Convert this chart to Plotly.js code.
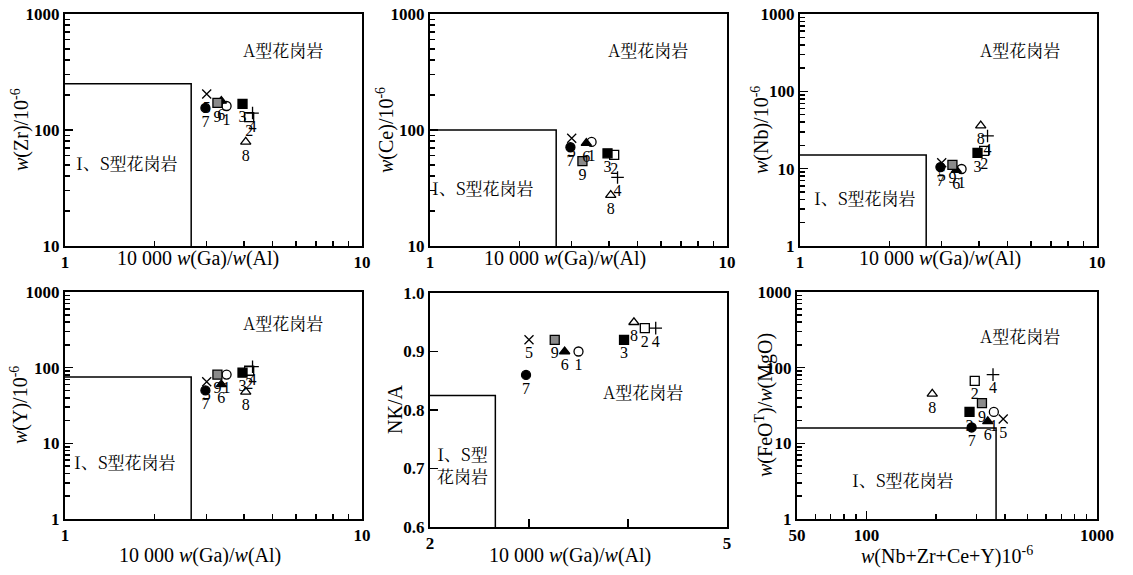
<!DOCTYPE html>
<html><head><meta charset="utf-8">
<script src="https://cdn.plot.ly/plotly-3.0.1.min.js"></script>
<style>html,body{margin:0;padding:0;background:#fff}#chart{width:1133px;height:575px}</style>
</head><body><div id="chart"></div>
<script>
// ---- data ----
const sampleIds = ['1','2','3','4','5','6','7','8','9'];
const gaAl   = [3.5, 4.17, 3.96, 4.28, 3.0, 3.36, 2.97, 4.06, 3.26];   // 10000 Ga/Al
const zr     = [161, 129, 168, 140, 204, 178, 155, 79, 171];
const ce     = [79, 61, 63, 39, 85, 77, 71, 27.5, 54];
const nb     = [9.9, 17, 16, 26.5, 11.9, 9.6, 10.5, 36, 11.2];
const yt     = [81, 91, 86, 103, 65, 60, 50, 48, 81];
const nka    = [0.90, 0.94, 0.92, 0.94, 0.92, 0.90, 0.86, 0.95, 0.92];
const hfse   = [357, 295, 280, 354, 392, 336, 286, 193, 317];           // Nb+Zr+Ce+Y
const feoMgo = [26, 67, 26, 81, 21, 19.5, 16.2, 45, 34];
// field boundaries (I & S type granite box)
const gaAlLimit = 2.66, zrLimit = 250, ceLimit = 100, nbLimit = 15, yLimit = 75;
const nkaLimit = 0.825, hfseLimit = 365, feoLimit = 16;
const labelA = 'A型花岗岩', labelIS = 'I、S型花岗岩', labelIS2 = 'I、S型<br>花岗岩';

// ---- styles ----
const symbols = ['circle-open','square-open','square','cross-thin','x-thin','triangle-up','circle','triangle-up-open','square'];
const fills   = ['black','black','black','black','black','black','black','black','#8a8a8a'];
const SERIF = 'Liberation Serif, Times New Roman, Noto Sans CJK SC, serif';
const CJK = 'Noto Serif CJK SC, Liberation Serif, Noto Sans CJK SC, serif';

const W = 1133, H = 575;
function px2x(p){return p/W;}
function px2y(p){return (H-p)/H;}

function minorLog(lo, hi){ // tick marks 2..9 per decade
  const v=[]; for(let e=Math.floor(lo); e<hi; e++){ for(let m=2;m<=9;m++){ const t=m*Math.pow(10,e); if(Math.log10(t)>lo+1e-9 && Math.log10(t)<hi-1e-9) v.push(t);} } return v;
}
function axis(opts){
  const a = {
    domain: opts.domain, range: opts.range, type: opts.type||'linear',
    showline:true, mirror:true, linewidth:2, linecolor:'black',
    ticks:'inside', ticklen:8, tickwidth:1.5, tickcolor:'black',
    showgrid:false, zeroline:false, fixedrange:true,
    tickfont:{family:SERIF, size:17, color:'black', weight:'bold'},
    anchor: opts.anchor
  };
  if(opts.tickvals){a.tickmode='array'; a.tickvals=opts.tickvals; a.ticktext=opts.ticktext;}
  if(opts.dtick){a.tickmode='linear'; a.tick0=opts.tick0; a.dtick=opts.dtick; a.tickformat=opts.tickformat;}
  if(opts.type==='log'){ a.minor={ticks:'inside', ticklen:5, tickwidth:1.5, tickcolor:'black', tickmode:'array', tickvals:minorLog(opts.range[0],opts.range[1]), showgrid:false}; }
  return a;
}

const xd1=[px2x(65),px2x(362)], xd2=[px2x(430),px2x(727)], xd3=[px2x(800),px2x(1097)], xd6=[px2x(797),px2x(1097)];
const ydTop=[px2y(246),px2y(14)], ydBot=[px2y(519),px2y(292)], ydMid=[px2y(527),px2y(293)];

const layout = {
  width:W, height:H, margin:{l:0,r:0,t:0,b:0}, paper_bgcolor:'white', plot_bgcolor:'white',
  showlegend:false, font:{family:SERIF, color:'black'},
  xaxis:  axis({domain:xd1, range:[0,1], type:'log', tickvals:[1,10], ticktext:['1','10'], anchor:'y'}),
  yaxis:  axis({domain:ydTop, range:[1,3], type:'log', tickvals:[10,100,1000], ticktext:['10','100','1000'], anchor:'x'}),
  xaxis2: axis({domain:xd2, range:[0,1], type:'log', tickvals:[1,10], ticktext:['1','10'], anchor:'y2'}),
  yaxis2: axis({domain:ydTop, range:[1,3], type:'log', tickvals:[10,100,1000], ticktext:['10','100','1000'], anchor:'x2'}),
  xaxis3: axis({domain:xd3, range:[0,1], type:'log', tickvals:[1,10], ticktext:['1','10'], anchor:'y3'}),
  yaxis3: axis({domain:ydTop, range:[0,3], type:'log', tickvals:[1,10,100,1000], ticktext:['1','10','100','1000'], anchor:'x3'}),
  xaxis4: axis({domain:xd1, range:[0,1], type:'log', tickvals:[1,10], ticktext:['1','10'], anchor:'y4'}),
  yaxis4: axis({domain:ydBot, range:[0,3], type:'log', tickvals:[1,10,100,1000], ticktext:['1','10','100','1000'], anchor:'x4'}),
  xaxis5: axis({domain:xd2, range:[2,5], tickvals:[2,3,4,5], ticktext:['2','','','5'], anchor:'y5'}),
  yaxis5: axis({domain:ydMid, range:[0.6,1.0], tick0:0.6, dtick:0.1, tickformat:'.1f', anchor:'x5'}),
  xaxis6: axis({domain:xd6, range:[Math.log10(50),3], type:'log', tickvals:[50,100,1000], ticktext:['50','100','1000'], anchor:'y6'}),
  yaxis6: axis({domain:ydBot, range:[0,3], type:'log', tickvals:[1,10,100,1000], ticktext:['1','10','100','1000'], anchor:'x6'}),
  annotations: []
};

const panels = [
  {x:gaAl, y:zr, xa:'x', ya:'y', xmin:1, ymin:10, xb:gaAlLimit, yb:zrLimit, a:[0.734,0.849], is:[0.209,0.362], isText:labelIS},
  {x:gaAl, y:ce, xa:'x2', ya:'y2', xmin:1, ymin:10, xb:gaAlLimit, yb:ceLimit, a:[0.734,0.849], is:[0.178,0.254], isText:labelIS},
  {x:gaAl, y:nb, xa:'x3', ya:'y3', xmin:1, ymin:1, xb:gaAlLimit, yb:nbLimit, a:[0.74,0.849], is:[0.219,0.207], isText:labelIS},
  {x:gaAl, y:yt, xa:'x4', ya:'y4', xmin:1, ymin:1, xb:gaAlLimit, yb:yLimit, a:[0.734,0.864], is:[0.202,0.254], isText:labelIS},
  {x:gaAl, y:nka, xa:'x5', ya:'y5', xmin:2, ymin:0.6, xb:gaAlLimit, yb:nkaLimit, a:[0.717,0.577], is:[0.111,0.265], isText:labelIS2},
  {x:hfse, y:feoMgo, xa:'x6', ya:'y6', xmin:50, ymin:1, xb:hfseLimit, yb:feoLimit, a:[0.743,0.81], is:[0.353,0.175], isText:labelIS},
];

const data = [];
panels.forEach(p => {
  data.push({type:'scatter', mode:'lines', x:[p.xmin, p.xb, p.xb], y:[p.yb, p.yb, p.ymin], xaxis:p.xa, yaxis:p.ya,
    line:{color:'black', width:1.5}, hoverinfo:'skip', cliponaxis:false});
  data.push({type:'scatter', mode:'markers+text', x:p.x, y:p.y, text:sampleIds, xaxis:p.xa, yaxis:p.ya,
    textposition:'bottom center', textfont:{family:SERIF, size:16, color:'black'},
    marker:{symbol:symbols, size:9, color:fills, line:{color:'black', width:1.3}}, cliponaxis:false});
  const xr = p.xa==='x'?'x domain':p.xa+' domain', yr = p.ya==='y'?'y domain':p.ya+' domain';
  layout.annotations.push({xref:xr, yref:yr, x:p.a[0], y:p.a[1], xanchor:'center', yanchor:'middle', text:labelA, showarrow:false, font:{family:CJK, size:17, color:'black'}});
  layout.annotations.push({xref:xr, yref:yr, x:p.is[0], y:p.is[1], xanchor:'center', yanchor:'middle', text:p.isText, showarrow:false, font:{family:CJK, size:17, color:'black'}});
});

// axis titles
const xTitleGa = '10 000 <i>w</i>(Ga)/<i>w</i>(Al)';
const titles = [
  {x:198, y:258, t:xTitleGa, a:0}, {x:565, y:258, t:xTitleGa, a:0}, {x:940, y:258, t:xTitleGa, a:0},
  {x:200, y:555, t:xTitleGa, a:0}, {x:570, y:555, t:xTitleGa, a:0}, {x:947, y:555, t:'<i>w</i>(Nb+Zr+Ce+Y)10<sup>-6</sup>', a:0},
  {x:20, y:130, t:'<i>w</i>(Zr)/10<sup>-6</sup>', a:-90}, {x:385, y:130, t:'<i>w</i>(Ce)/10<sup>-6</sup>', a:-90},
  {x:760, y:130, t:'<i>w</i>(Nb)/10<sup>-6</sup>', a:-90}, {x:20, y:405, t:'<i>w</i>(Y)/10<sup>-6</sup>', a:-90},
  {x:395, y:410, t:'NK/A', a:-90}, {x:765, y:405, t:'<i>w</i>(FeO<sup>T</sup>)/<i>w</i>(MgO)', a:-90},
];
titles.forEach(t => layout.annotations.push({xref:'paper', yref:'paper', x:px2x(t.x), y:px2y(t.y), text:t.t, textangle:t.a,
  showarrow:false, xanchor:'center', yanchor:'middle', font:{family:SERIF, size:20, color:'black'}}));

Plotly.newPlot('chart', data, layout, {staticPlot:true, displayModeBar:false});
</script></body></html>
